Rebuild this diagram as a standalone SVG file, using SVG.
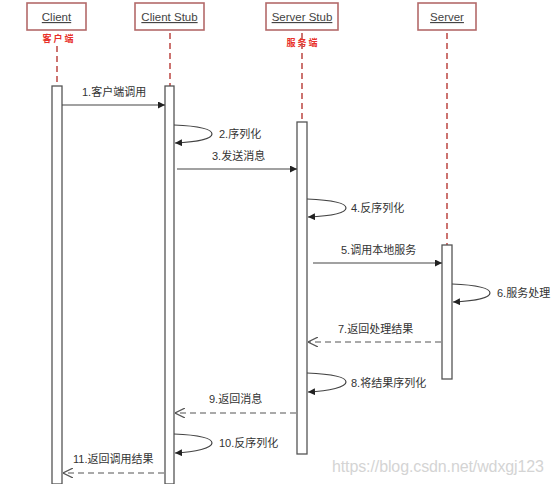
<svg xmlns="http://www.w3.org/2000/svg" width="554" height="484" viewBox="0 0 554 484">
<style>
.hdr{fill:#fff;stroke:#b36a6a;stroke-width:1.6}
.ht{font-family:"Liberation Sans",Arial,sans-serif;font-size:11.5px;fill:#444;text-anchor:middle;text-decoration:underline}
.life{stroke:#c0504d;stroke-width:1.6;stroke-dasharray:6,4;fill:none}
.red{font-family:"Noto Sans CJK SC",sans-serif;font-size:9px;font-weight:bold;fill:#e8302a;text-anchor:middle;letter-spacing:2px}
.bar{fill:#fff;stroke:#555;stroke-width:1.3}
.msg{stroke:#444;stroke-width:1.2;fill:none}
.ret{stroke:#555;stroke-width:1.2;fill:none;stroke-dasharray:6,4}
.lb{font-family:"Liberation Sans","Noto Sans CJK SC",sans-serif;font-size:11px;fill:#333}
</style>
<defs>
<marker id="fa" viewBox="0 0 10 10" refX="10" refY="5" markerWidth="7" markerHeight="7" markerUnits="userSpaceOnUse" orient="auto"><path d="M0,0 L10,5 L0,10 z" fill="#222"/></marker>
<marker id="oa" viewBox="0 0 10 10" refX="10" refY="5" markerWidth="10" markerHeight="10" markerUnits="userSpaceOnUse" orient="auto"><path d="M0,0 L10,5 L0,10" fill="none" stroke="#555" stroke-width="1.2"/></marker>
</defs>
<rect width="554" height="484" fill="#fff"/>
<g id="client">
<rect class="hdr" x="27" y="3" width="59" height="27"/>
<text class="ht" x="56.5" y="21">Client</text>
<text class="red" x="59" y="42">客户端</text>
<line class="life" x1="57" y1="46" x2="57" y2="86"/>
<rect class="bar" x="52" y="86" width="10" height="398"/>
</g>
<g id="clientstub">
<rect class="hdr" x="135" y="3" width="69" height="27"/>
<text class="ht" x="169.5" y="21">Client Stub</text>
<line class="life" x1="170" y1="33" x2="170" y2="86"/>
<rect class="bar" x="165" y="86" width="9" height="398"/>
</g>
<g id="serverstub">
<rect class="hdr" x="266" y="3" width="72" height="27"/>
<text class="ht" x="302" y="21">Server Stub</text>
<text class="red" x="303" y="46">服务端</text>
<line class="life" x1="302" y1="33" x2="302" y2="122"/>
<rect class="bar" x="297" y="122" width="10" height="332"/>
</g>
<g id="server">
<rect class="hdr" x="418" y="3" width="58" height="27"/>
<text class="ht" x="447" y="21">Server</text>
<line class="life" x1="447" y1="33" x2="447" y2="245"/>
<rect class="bar" x="442" y="245" width="10" height="134"/>
</g>
<g id="connectors">
<line class="msg" x1="62" y1="105" x2="165" y2="105" marker-end="url(#fa)"/>
<path class="msg" d="M174,125 C198,126 212,129 212,134 C212,139 196,142 175,143" marker-end="url(#fa)"/>
<line class="msg" x1="177" y1="169" x2="297" y2="169" marker-end="url(#fa)"/>
<path class="msg" d="M307,199 C331,200 346,203 346,208 C346,213 330,216 308,217" marker-end="url(#fa)"/>
<line class="msg" x1="313" y1="263" x2="442" y2="263" marker-end="url(#fa)"/>
<path class="msg" d="M452,284 C476,285 490,288 490,293 C490,298 474,301 453,302" marker-end="url(#fa)"/>
<line class="ret" x1="441" y1="342" x2="308" y2="342" marker-end="url(#oa)"/>
<path class="msg" d="M307,373 C331,374 346,377 346,382 C346,387 330,391 308,392" marker-end="url(#fa)"/>
<line class="ret" x1="296" y1="413" x2="175" y2="413" marker-end="url(#oa)"/>
<path class="msg" d="M174,434 C198,435 212,438 212,443 C212,448 196,452 175,453" marker-end="url(#fa)"/>
<line class="ret" x1="164" y1="473" x2="63" y2="473" marker-end="url(#oa)"/>
</g>
<g id="labels">
<text class="lb" x="82" y="96">1.客户端调用</text>
<text class="lb" x="219" y="138">2.序列化</text>
<text class="lb" x="212" y="160">3.发送消息</text>
<text class="lb" x="351" y="212">4.反序列化</text>
<text class="lb" x="341" y="254">5.调用本地服务</text>
<text class="lb" x="497" y="297">6.服务处理</text>
<text class="lb" x="338" y="333">7.返回处理结果</text>
<text class="lb" x="351" y="387">8.将结果序列化</text>
<text class="lb" x="209" y="403">9.返回消息</text>
<text class="lb" x="219" y="447">10.反序列化</text>
<text class="lb" x="73" y="463">11.返回调用结果</text>
</g>
<text x="332" y="472" font-family="Liberation Sans,Arial,sans-serif" font-size="16" fill="#d4d4d4" textLength="212">https://blog.csdn.net/wdxgj123</text>
</svg>
